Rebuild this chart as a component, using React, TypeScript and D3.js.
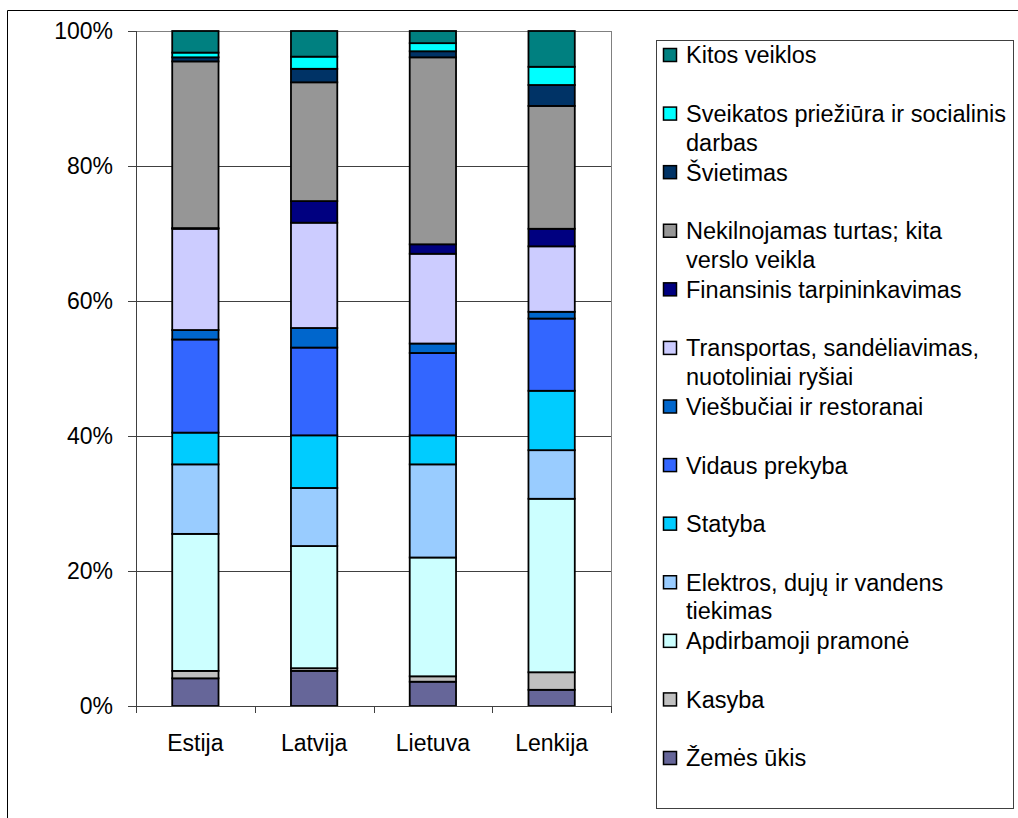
import React from "react";
import * as d3 from "d3";

const countries = ["Estija", "Latvija", "Lietuva", "Lenkija"];

// Series from bottom to top
const sectors = [
  "Žemės ūkis",
  "Kasyba",
  "Apdirbamoji pramonė",
  "Elektros, dujų ir vandens tiekimas",
  "Statyba",
  "Vidaus prekyba",
  "Viešbučiai ir restoranai",
  "Transportas, sandėliavimas, nuotoliniai ryšiai",
  "Finansinis tarpininkavimas",
  "Nekilnojamas turtas; kita verslo veikla",
  "Švietimas",
  "Sveikatos priežiūra ir socialinis darbas",
  "Kitos veiklos",
];

// legend labels split into lines as in the reference
const legendLines: string[][] = [
  ["Žemės ūkis"],
  ["Kasyba"],
  ["Apdirbamoji pramonė"],
  ["Elektros, dujų ir vandens", "tiekimas"],
  ["Statyba"],
  ["Vidaus prekyba"],
  ["Viešbučiai ir restoranai"],
  ["Transportas, sandėliavimas,", "nuotoliniai ryšiai"],
  ["Finansinis tarpininkavimas"],
  ["Nekilnojamas turtas; kita", "verslo veikla"],
  ["Švietimas"],
  ["Sveikatos priežiūra ir socialinis", "darbas"],
  ["Kitos veiklos"],
];

const colors = [
  "#666699",
  "#C0C0C0",
  "#CCFFFF",
  "#99CCFF",
  "#00CCFF",
  "#3366FF",
  "#0066CC",
  "#CCCCFF",
  "#000080",
  "#969696",
  "#003366",
  "#00FFFF",
  "#008080",
];

// Percent values per sector (order as sectors), per country
const estija = [4.1, 1.1, 20.3, 10.3, 4.7, 13.8, 1.4, 15.0, 0.1, 24.7, 0.6, 0.7, 3.2];
const latvija = [5.2, 0.4, 18.1, 8.6, 7.8, 13.0, 2.9, 15.6, 3.2, 17.6, 2.0, 1.8, 3.8];
const lietuva = [3.6, 0.8, 17.6, 13.8, 4.3, 12.2, 1.4, 13.3, 1.4, 27.7, 0.9, 1.2, 1.8];
const lenkija = [2.4, 2.6, 25.7, 7.2, 8.8, 10.7, 1.0, 9.7, 2.6, 18.2, 3.1, 2.7, 5.3];

const yTicks = [0, 20, 40, 60, 80, 100];

const W = 1018;
const H = 818;
const plot = { left: 136, right: 611, top: 31, bottom: 706 };
const FONT = "'Liberation Sans', Arial, sans-serif";
const FS = 23;
const LFS = 23.5;

export default function App() {
  const table = [estija, latvija, lietuva, lenkija];
  const rows = countries.map((c, i) => {
    const total = d3.sum(table[i]);
    const r: any = { country: c };
    sectors.forEach((s, j) => (r[s] = (table[i][j] / total) * 100));
    return r;
  });
  const stacked = d3.stack<any>().keys(sectors)(rows);

  const x = d3
    .scaleBand<string>()
    .domain(countries)
    .range([plot.left, plot.right])
    .paddingInner(0.61)
    .paddingOuter(0.305);
  const xb = d3.scaleBand<string>().domain(countries).range([plot.left, plot.right]);
  const y = d3.scaleLinear().domain([0, 100]).range([plot.bottom, plot.top]);

  const legend = { x: 656, y: 40, w: 357, h: 768 };
  const legendY = d3.scaleLinear().domain([0, 12]).range([55, 758]);

  return (
    <svg
      width={W}
      height={H}
      style={{ position: "absolute", left: 0, top: 0, background: "#fff" }}
      fontFamily={FONT}
    >
      <rect x={0} y={0} width={W} height={H} fill="#fff" />
      {/* outer chart border */}
      <line x1={7.5} y1={10.5} x2={W} y2={10.5} stroke="#000" strokeWidth={1} />
      <line x1={7.5} y1={10.5} x2={7.5} y2={H} stroke="#000" strokeWidth={1} />

      {/* gridlines */}
      {yTicks.map((t) => (
        <line
          key={"g" + t}
          x1={plot.left}
          x2={plot.right}
          y1={Math.round(y(t)) + 0.5}
          y2={Math.round(y(t)) + 0.5}
          stroke={t === 100 ? "#808080" : "#404040"}
          strokeWidth={1}
        />
      ))}
      {/* right plot border */}
      <line x1={plot.right + 0.5} x2={plot.right + 0.5} y1={plot.top} y2={plot.bottom + 6} stroke="#808080" />

      {/* bars */}
      {stacked.map((layer, j) =>
        layer.map((d, i) => (
          <rect
            key={j + "-" + i}
            x={x(countries[i])!}
            width={x.bandwidth()}
            y={y(d[1])}
            height={Math.max(0, y(d[0]) - y(d[1]))}
            fill={colors[j]}
            stroke="#000"
            strokeWidth={1.8}
          />
        ))
      )}

      {/* y axis */}
      <line x1={plot.left + 0.5} x2={plot.left + 0.5} y1={plot.top} y2={plot.bottom} stroke="#404040" />
      {yTicks.map((t) => (
        <g key={"t" + t}>
          <line
            x1={plot.left - 8}
            x2={plot.left}
            y1={Math.round(y(t)) + 0.5}
            y2={Math.round(y(t)) + 0.5}
            stroke="#404040"
          />
          <text
            x={113}
            y={y(t)}
            dy="0.36em"
            textAnchor="end"
            fontSize={FS}
            fill="#000"
          >
            {t + "%"}
          </text>
        </g>
      ))}

      {/* x axis */}
      <line x1={plot.left} x2={plot.right} y1={plot.bottom + 0.5} y2={plot.bottom + 0.5} stroke="#404040" />
      {[...countries.map((c) => xb(c)!), plot.right].map((px, i) => (
        <line
          key={"xt" + i}
          x1={Math.round(px) + 0.5}
          x2={Math.round(px) + 0.5}
          y1={plot.bottom}
          y2={plot.bottom + 7}
          stroke="#404040"
        />
      ))}
      {countries.map((c) => (
        <text
          key={c}
          x={xb(c)! + xb.bandwidth() / 2}
          y={743}
          dy="0.36em"
          textAnchor="middle"
          fontSize={FS}
          fill="#000"
        >
          {c}
        </text>
      ))}

      {/* legend */}
      <rect
        x={legend.x + 0.5}
        y={legend.y + 0.5}
        width={legend.w}
        height={legend.h}
        fill="#fff"
        stroke="#404040"
        strokeWidth={1}
      />
      {sectors
        .map((s, j) => ({ s, j }))
        .reverse()
        .map(({ j }, k) => {
          const cy = legendY(k);
          return (
            <g key={"l" + j}>
              <rect
                x={663.5}
                y={cy - 6.5}
                width={13}
                height={13}
                fill={colors[j]}
                stroke="#000"
                strokeWidth={1.5}
              />
              {legendLines[j].map((ln, li) => (
                <text
                  key={li}
                  x={686}
                  y={cy + li * 28.5}
                  dy="0.36em"
                  fontSize={LFS}
                  fill="#000"
                >
                  {ln}
                </text>
              ))}
            </g>
          );
        })}
    </svg>
  );
}
